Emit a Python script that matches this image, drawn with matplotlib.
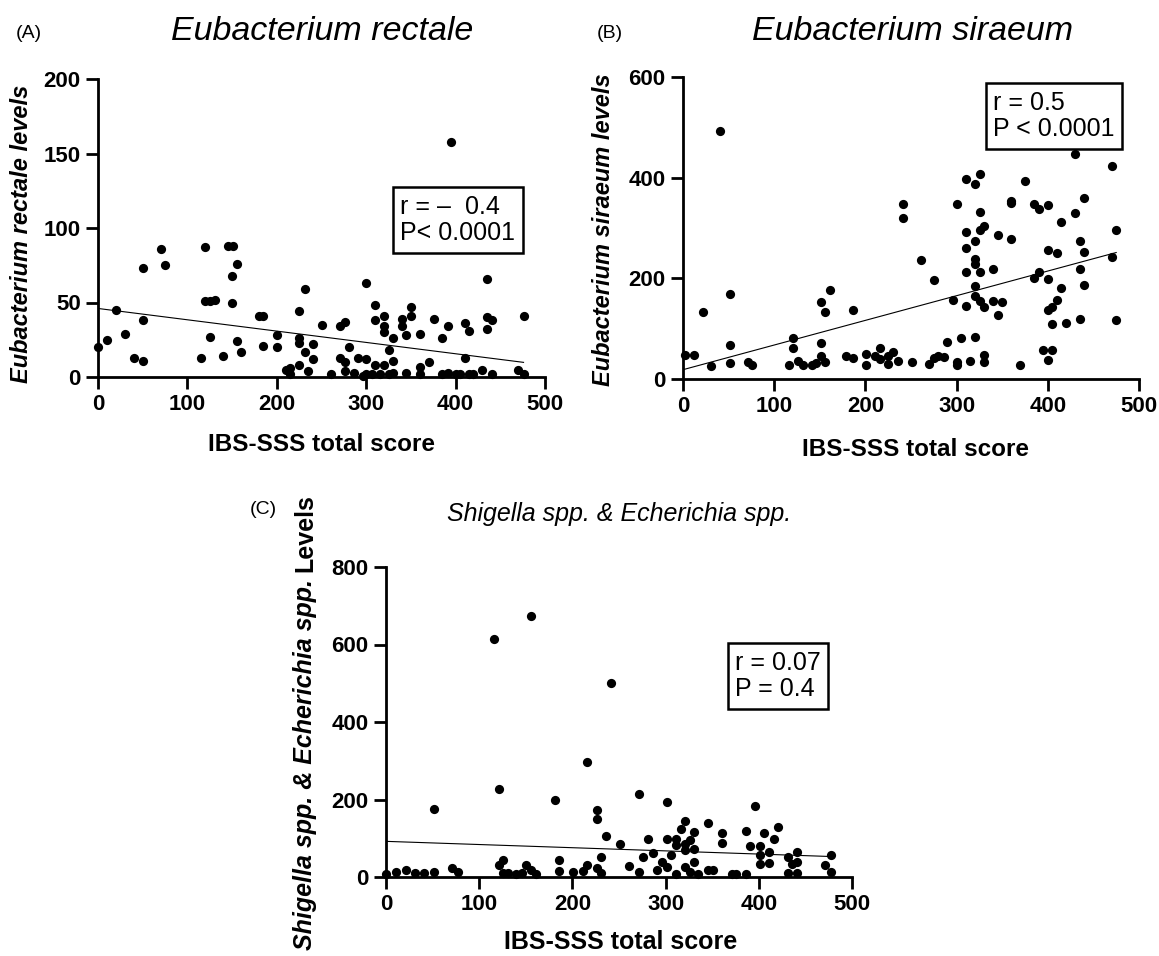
import numpy as np
import matplotlib
matplotlib.use('Agg')
import matplotlib.pyplot as plt

plt.rcParams['font.family'] = ['Liberation Sans', 'DejaVu Sans']

# (IBS-SSS score, level)
rectale_pts = [
    (0, 20), (10, 25), (20, 45), (30, 29), (40, 13), (50, 73), (50, 38), (50, 11),
    (70, 86), (75, 75), (115, 13), (120, 87), (120, 51), (125, 51), (131, 52),
    (125, 27), (140, 14), (145, 88), (151, 88), (150, 68), (150, 50), (156, 76),
    (155, 24), (160, 17), (180, 41), (185, 41), (185, 21), (200, 28), (200, 20),
    (210, 4.5), (215, 6), (215, 2), (225, 44), (225, 26), (225, 23), (225, 8),
    (231, 59), (231, 17), (241, 22), (241, 12), (235, 4), (251, 35), (261, 2),
    (271, 34), (276, 37), (271, 13), (276, 10), (276, 4), (281, 20), (286, 3),
    (291, 13), (296, 1), (300, 63), (300, 12), (300, 2), (306, 2), (310, 48),
    (310, 38), (310, 8), (315, 2), (320, 41), (320, 34), (320, 30), (320, 8),
    (325, 18), (325, 2), (330, 26), (330, 11), (330, 3), (340, 39), (340, 34),
    (345, 28), (345, 3), (350, 47), (350, 41), (360, 29), (360, 7), (360, 2),
    (370, 10), (376, 39), (385, 26), (385, 2), (391, 34), (391, 3), (395, 158),
    (400, 2), (405, 2), (410, 36), (410, 13), (415, 31), (415, 2), (420, 2),
    (430, 5), (435, 66), (435, 40), (435, 32), (441, 38), (441, 2), (470, 4.5),
    (476, 41), (476, 2),
]
siraeum_pts = [
    (2, 47), (12, 47), (22, 134), (31, 25), (41, 492), (51, 168), (51, 67), (51, 32),
    (71, 34), (76, 28), (116, 27), (121, 81), (121, 61), (126, 36), (132, 28),
    (141, 27), (146, 32), (151, 152), (151, 71), (151, 45), (156, 133), (156, 34),
    (161, 176), (179, 46), (186, 137), (186, 42), (201, 50), (201, 28), (211, 46),
    (216, 61), (216, 40), (225, 30), (225, 45), (230, 53), (236, 36), (241, 347),
    (241, 320), (251, 34), (261, 237), (270, 30), (275, 197), (275, 42), (280, 45),
    (286, 43), (290, 73), (296, 157), (300, 348), (300, 34), (300, 27), (305, 81),
    (310, 397), (310, 292), (310, 261), (310, 212), (310, 145), (315, 36),
    (320, 387), (320, 274), (320, 238), (320, 229), (320, 185), (320, 164),
    (320, 83), (326, 408), (326, 332), (326, 296), (326, 213), (326, 154),
    (330, 304), (330, 144), (330, 48), (330, 33), (340, 219), (340, 155),
    (345, 287), (345, 128), (350, 153), (360, 354), (360, 350), (360, 278),
    (370, 28), (375, 393), (385, 348), (385, 200), (390, 337), (390, 213),
    (395, 57), (400, 346), (400, 256), (400, 198), (400, 137), (400, 38),
    (405, 144), (405, 57), (405, 110), (410, 157), (410, 250), (415, 311),
    (415, 180), (420, 112), (430, 448), (430, 329), (435, 275), (435, 218),
    (435, 119), (440, 360), (440, 253), (440, 186), (470, 423), (470, 242),
    (475, 296), (475, 117),
]
shigella_pts = [
    (0, 9), (11, 12), (21, 19), (31, 10), (41, 10), (51, 13), (51, 176), (71, 22),
    (77, 13), (116, 614), (121, 227), (121, 30), (126, 45), (126, 10), (131, 10),
    (140, 9), (146, 10), (150, 30), (156, 673), (156, 19), (161, 9), (181, 198),
    (186, 43), (186, 15), (201, 13), (211, 15), (216, 296), (216, 30), (226, 172),
    (226, 150), (226, 22), (231, 52), (231, 10), (236, 105), (241, 501), (251, 85),
    (261, 29), (271, 215), (271, 13), (276, 52), (281, 98), (286, 62), (291, 17),
    (296, 39), (301, 193), (301, 98), (301, 26), (306, 58), (311, 98), (311, 9),
    (311, 82), (316, 125), (321, 145), (321, 86), (321, 69), (321, 26), (326, 95),
    (326, 12), (331, 115), (331, 73), (331, 39), (335, 9), (346, 139), (346, 17),
    (351, 19), (361, 114), (361, 88), (371, 9), (376, 9), (386, 119), (386, 9),
    (391, 81), (396, 182), (401, 81), (401, 58), (401, 34), (406, 114), (411, 65),
    (411, 36), (416, 98), (421, 129), (431, 52), (431, 10), (436, 34), (441, 65),
    (441, 39), (441, 10), (471, 30), (477, 58), (477, 12),
]

# regression lines (intercept, slope) as drawn in the figure
rectale_fit = (46, -0.076)
siraeum_fit = (18.5, 0.49)
shigella_fit = (92, -0.082)

W, H = 1159, 956
fig = plt.figure(figsize=(W / 100, H / 100), dpi=100)


def rect(l, t, r, b):
    return [l / W, 1 - b / H, (r - l) / W, (b - t) / H]


def px(x, y):
    return x / W, 1 - y / H


def panel(box, pts, fit, ymax, ystep):
    ax = fig.add_axes(rect(*box))
    x = np.array([p[0] for p in pts])
    y = np.array([p[1] for p in pts])
    ax.scatter(x, y, s=44, c='black', linewidths=0, clip_on=False, zorder=3)
    xs = np.array([0, x.max()])
    ax.plot(xs, fit[0] + fit[1] * xs, color='black', lw=0.8)
    ax.set_xlim(0, 500)
    ax.set_ylim(0, ymax)
    ax.set_xticks(np.arange(0, 501, 100))
    ax.set_yticks(np.arange(0, ymax + 1, ystep))
    ax.spines['top'].set_visible(False)
    ax.spines['right'].set_visible(False)
    ax.spines['left'].set_linewidth(2)
    ax.spines['bottom'].set_linewidth(2)
    ax.tick_params(width=2, length=8.5, labelsize=16, pad=4)
    for lab in ax.get_xticklabels() + ax.get_yticklabels():
        lab.set_fontweight('bold')
    return ax


panel((98, 79, 545, 377), rectale_pts, rectale_fit, 200, 50)
panel((683, 77, 1139, 379), siraeum_pts, siraeum_fit, 600, 200)
panel((386, 567, 852, 877), shigella_pts, shigella_fit, 800, 200)

# panel letters and titles
fig.text(*px(29, 34), '(A)', fontsize=14, ha='center', va='center')
fig.text(*px(610, 34), '(B)', fontsize=14, ha='center', va='center')
fig.text(*px(263, 510), '(C)', fontsize=14, ha='center', va='center')
fig.text(*px(322, 32), 'Eubacterium rectale', fontsize=24.5, style='italic', ha='center', va='center')
fig.text(*px(913, 32), 'Eubacterium siraeum', fontsize=24.5, style='italic', ha='center', va='center')
fig.text(*px(619, 514), 'Shigella spp. & Echerichia spp.', fontsize=18, style='italic', ha='center', va='center')

# axis titles
fig.text(*px(322, 445), 'IBS-SSS total score', fontsize=17.5, fontweight='bold', ha='center', va='center')
fig.text(*px(915, 449), 'IBS-SSS total score', fontsize=17.5, fontweight='bold', ha='center', va='center')
fig.text(*px(621, 942), 'IBS-SSS total score', fontsize=18, fontweight='bold', ha='center', va='center')
fig.text(*px(22, 234), 'Eubacterium rectale levels', fontsize=17, fontweight='bold', style='italic',
         rotation=90, ha='center', va='center')
fig.text(*px(604, 230), 'Eubacterium siraeum levels', fontsize=17, fontweight='bold', style='italic',
         rotation=90, ha='center', va='center')

# panel C y label: italic species names, upright "Levels"
renderer = fig.canvas.get_renderer()
t1 = fig.text(*px(305, 0), 'Shigella spp. & Echerichia spp.', fontsize=18, fontweight='bold',
              style='italic', rotation=90, ha='center', va='bottom')
t2 = fig.text(*px(305, 0), 'Levels', fontsize=18, fontweight='bold', rotation=90, ha='center', va='bottom')
h1 = t1.get_window_extent(renderer).height
h2 = t2.get_window_extent(renderer).height
gap = 7
y_start = 722 + (h1 + gap + h2) / 2
t1.set_position(px(305, y_start))
t2.set_position(px(305, y_start - h1 - gap))

# correlation boxes
box = dict(boxstyle='square,pad=0.3', fc='white', ec='black', lw=1.8)
fig.text(*px(400, 220), 'r = \u2013  0.4\nP< 0.0001', fontsize=18, ha='left', va='center', linespacing=1.15, bbox=box)
fig.text(*px(993, 116), 'r = 0.5\nP < 0.0001', fontsize=18, ha='left', va='center', linespacing=1.15, bbox=box)
fig.text(*px(735, 676), 'r = 0.07\nP = 0.4', fontsize=18, ha='left', va='center', linespacing=1.15, bbox=box)

fig.savefig('out.png', dpi=100, facecolor='white')
